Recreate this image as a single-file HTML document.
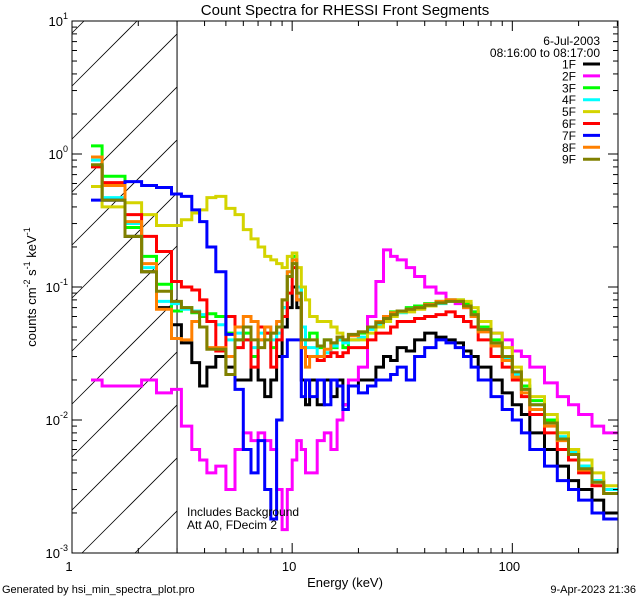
<!DOCTYPE html>
<html><head><meta charset="utf-8"><style>
html,body{margin:0;background:#fff;width:640px;height:600px;overflow:hidden}
svg{display:block;font-family:"Liberation Sans",sans-serif}
</style></head><body>
<svg id="c" width="640" height="600"></svg>
<script>
const edges=[1.22,1.37,1.74,2.07,2.42,2.83,3.14,3.5,3.8,4.1,4.5,5,5.5,6,6.5,7,7.5,8,8.5,9,9.5,10,10.5,11,11.5,12,13,14,15,16,17,18,20,22,24,26,28,30,33,36,40,45,50,55,60,65,70,80,90,100,110,120,140,160,180,200,230,260,300];
const seriesNames=["1F","2F","3F","4F","5F","6F","7F","8F","9F"];
const seriesColors=["#000000","#ff00ff","#00ff00","#00ffff","#d4d400","#ff0000","#0000ff","#ff8000","#808000"];
const s1F=[0.81,0.45,0.24,0.13,0.07,0.052,0.038,0.027,0.018,0.025,0.03,0.025,0.02,0.02,0.03,0.02,0.015,0.02,0.03,0.05,0.07,0.1,0.07,0.02,0.013,0.02,0.013,0.02,0.015,0.02,0.013,0.018,0.02,0.02,0.025,0.03,0.028,0.035,0.033,0.04,0.045,0.042,0.04,0.038,0.033,0.03,0.025,0.02,0.016,0.013,0.011,0.008,0.006,0.0045,0.0035,0.003,0.0025,0.002];
const s2F=[0.02,0.018,0.018,0.02,0.016,0.017,0.009,0.006,0.005,0.004,0.0045,0.003,0.006,0.008,0.007,0.008,0.007,0.006,0.003,0.0015,0.003,0.005,0.007,0.006,0.004,0.004,0.007,0.008,0.006,0.01,0.013,0.02,0.025,0.06,0.11,0.19,0.17,0.16,0.14,0.12,0.1,0.09,0.08,0.075,0.07,0.065,0.055,0.045,0.04,0.033,0.03,0.025,0.019,0.015,0.013,0.011,0.009,0.008];
const s3F=[1.15,0.68,0.28,0.17,0.105,0.066,0.07,0.064,0.06,0.063,0.06,0.045,0.04,0.045,0.03,0.04,0.045,0.035,0.05,0.07,0.12,0.17,0.1,0.05,0.04,0.045,0.035,0.04,0.035,0.04,0.035,0.04,0.045,0.05,0.055,0.06,0.065,0.065,0.07,0.072,0.075,0.078,0.08,0.08,0.075,0.065,0.05,0.04,0.03,0.022,0.018,0.014,0.01,0.008,0.006,0.0045,0.0035,0.003];
const s4F=[0.9,0.47,0.3,0.14,0.078,0.075,0.068,0.066,0.062,0.055,0.052,0.04,0.045,0.04,0.035,0.045,0.05,0.04,0.045,0.07,0.13,0.16,0.1,0.05,0.035,0.035,0.03,0.032,0.036,0.04,0.038,0.04,0.042,0.048,0.052,0.058,0.062,0.064,0.068,0.07,0.072,0.075,0.078,0.078,0.072,0.062,0.048,0.038,0.029,0.022,0.017,0.013,0.0095,0.0075,0.0058,0.0045,0.0035,0.003];
const s5F=[0.57,0.4,0.43,0.35,0.29,0.29,0.32,0.36,0.38,0.47,0.48,0.39,0.35,0.27,0.23,0.2,0.17,0.16,0.15,0.14,0.17,0.18,0.14,0.1,0.08,0.06,0.055,0.055,0.05,0.045,0.04,0.04,0.04,0.045,0.05,0.055,0.06,0.065,0.065,0.068,0.072,0.076,0.08,0.08,0.078,0.07,0.055,0.045,0.035,0.025,0.02,0.015,0.011,0.008,0.006,0.005,0.004,0.0032];
const s6F=[0.8,0.61,0.35,0.24,0.185,0.11,0.1,0.095,0.08,0.055,0.033,0.06,0.035,0.04,0.025,0.05,0.045,0.025,0.04,0.06,0.09,0.14,0.08,0.035,0.03,0.03,0.028,0.03,0.032,0.03,0.032,0.035,0.035,0.04,0.045,0.045,0.05,0.055,0.055,0.058,0.06,0.062,0.065,0.06,0.055,0.05,0.04,0.03,0.025,0.02,0.015,0.011,0.008,0.006,0.005,0.004,0.0032,0.0028];
const s7F=[0.45,0.45,0.62,0.58,0.56,0.5,0.48,0.38,0.31,0.2,0.13,0.044,0.017,0.006,0.004,0.007,0.003,0.0018,0.01,0.03,0.04,0.04,0.04,0.015,0.02,0.015,0.02,0.013,0.02,0.018,0.012,0.018,0.016,0.018,0.02,0.02,0.022,0.025,0.02,0.03,0.035,0.04,0.038,0.035,0.03,0.025,0.02,0.015,0.012,0.01,0.008,0.006,0.0045,0.0035,0.003,0.0025,0.002,0.0018];
const s8F=[0.95,0.58,0.31,0.15,0.068,0.041,0.04,0.055,0.05,0.035,0.035,0.03,0.05,0.06,0.055,0.04,0.05,0.045,0.055,0.08,0.13,0.16,0.08,0.035,0.025,0.03,0.03,0.034,0.038,0.042,0.04,0.043,0.046,0.05,0.055,0.06,0.064,0.066,0.068,0.07,0.074,0.078,0.08,0.078,0.07,0.06,0.046,0.036,0.028,0.021,0.016,0.012,0.009,0.007,0.0055,0.0042,0.0034,0.0028];
const s9F=[0.83,0.45,0.24,0.13,0.093,0.078,0.07,0.065,0.05,0.034,0.034,0.022,0.04,0.05,0.04,0.035,0.04,0.045,0.05,0.08,0.12,0.15,0.09,0.04,0.04,0.04,0.036,0.04,0.038,0.042,0.04,0.044,0.046,0.05,0.054,0.058,0.062,0.066,0.068,0.07,0.073,0.076,0.078,0.078,0.072,0.062,0.048,0.038,0.03,0.023,0.017,0.013,0.0095,0.0072,0.0055,0.0043,0.0034,0.0028];
const seriesData=[s1F,s2F,s3F,s4F,s5F,s6F,s7F,s8F,s9F];
const yTickExp=[-3,-2,-1,0,1];
const xTickLabels=[1,10,100];

const L=72,R=618,T=21,B=553,XMIN=1,XMAX=302,YMIN=1e-3,YMAX=10;
const sx=e=>L+(Math.log10(e)-Math.log10(XMIN))/(Math.log10(XMAX)-Math.log10(XMIN))*(R-L);
const sy=v=>B-(Math.log10(v)-Math.log10(YMIN))/(Math.log10(YMAX)-Math.log10(YMIN))*(B-T);
const svg=document.getElementById('c');const NS="http://www.w3.org/2000/svg";
function mk(tag,attrs,parent){const e=document.createElementNS(NS,tag);for(const k in attrs)e.setAttribute(k,attrs[k]);(parent||svg).appendChild(e);return e;}

const defs=mk('defs',{});const cp=mk('clipPath',{id:'pc'},defs);mk('rect',{x:L,y:T,width:R-L,height:B-T},cp);

const hatch=mk('g',{});


const hx=sx(3);
for(let k=-3;k<14;k++){
  const y0=T+65+k*53; // y at x=L; line y = y0-(x-L)
  let xa=L, xb=hx;
  // clip to y in [T,B]
  xa=Math.max(xa, L+(y0-B)); xb=Math.min(xb, L+(y0-T));
  if(xb<=xa) continue;
  mk('line',{x1:xa,y1:y0-(xa-L),x2:xb,y2:y0-(xb-L),stroke:'#000','stroke-width':0.8},hatch);
}
const hl=mk('line',{x1:hx,y1:T,x2:hx,y2:B,stroke:'#000','stroke-width':1});



const sg=mk('g',{'clip-path':'url(#pc)'});
seriesData.forEach((d,i)=>{let p='';d.forEach((v,j)=>{const x0=sx(edges[j]),x1=sx(edges[j+1]),y=Math.min(B,Math.max(T,sy(v)));p+=(j?'L':'M')+x0.toFixed(1)+' '+y.toFixed(1)+'L'+x1.toFixed(1)+' '+y.toFixed(1);});
const pa=mk('path',{d:p,fill:'none',stroke:seriesColors[i],'stroke-width':3,'stroke-linejoin':'miter'},sg);

});

const box=mk('rect',{x:L,y:T,width:R-L,height:B-T,fill:'none',stroke:'#000','stroke-width':1});


for(let e=-3;e<1;e++)for(let m=1;m<10;m++){const y=sy(m*Math.pow(10,e));const len=m==1?10:5;mk('line',{x1:L,y1:y,x2:L+len,y2:y,stroke:'#000'});mk('line',{x1:R,y1:y,x2:R-len,y2:y,stroke:'#000'});}
yTickExp.forEach(e=>{const y=sy(Math.pow(10,e));const t=mk('text',{x:L-4,y:y+5,'text-anchor':'end','font-size':13});t.textContent='10';const s=mk('tspan',{dy:-7,'font-size':9},t);s.textContent=String(e);});
for(let e=0;e<3;e++)for(let m=1;m<10;m++){const v=m*Math.pow(10,e);if(v>XMAX)break;const x=sx(v);const len=m==1?10:5;mk('line',{x1:x,y1:B,x2:x,y2:B-len,stroke:'#000'});mk('line',{x1:x,y1:T,x2:x,y2:T+len,stroke:'#000'});}
xTickLabels.forEach(v=>{const t=mk('text',{x:sx(v)-3,y:B+18,'text-anchor':'middle','font-size':13});t.textContent=String(v);});

let t=mk('text',{x:345,y:15,'text-anchor':'middle','font-size':15});t.textContent='Count Spectra for RHESSI Front Segments';
t=mk('text',{x:345,y:587,'text-anchor':'middle','font-size':13});t.textContent='Energy (keV)';
t=mk('text',{x:0,y:0,'text-anchor':'middle','font-size':13,transform:'translate(36,287) rotate(-90)'});
t.innerHTML='counts cm<tspan dy="-6" font-size="9">-2</tspan><tspan dy="6"> s</tspan><tspan dy="-6" font-size="9">-1</tspan><tspan dy="6"> keV</tspan><tspan dy="-6" font-size="9">-1</tspan>';
t=mk('text',{x:2,y:593,'font-size':11});t.textContent='Generated by hsi_min_spectra_plot.pro';
t=mk('text',{x:636,y:593,'text-anchor':'end','font-size':11});t.textContent='9-Apr-2023 21:36';
t=mk('text',{x:187,y:516,'font-size':12});t.textContent='Includes Background';
t=mk('text',{x:187,y:529,'font-size':12});t.textContent='Att A0, FDecim 2';

t=mk('text',{x:600,y:45,'text-anchor':'end','font-size':12});t.textContent='6-Jul-2003';
t=mk('text',{x:600,y:57,'text-anchor':'end','font-size':12});t.textContent='08:16:00 to 08:17:00';
seriesNames.forEach((n,i)=>{const y=64+i*11.9;const g=mk('g',{});
const tt=mk('text',{x:576,y:y+4.5,'text-anchor':'end','font-size':12},g);tt.textContent=n;
mk('line',{x1:583,y1:y,x2:600,y2:y,stroke:seriesColors[i],'stroke-width':3},g);});
</script>
</body></html>
